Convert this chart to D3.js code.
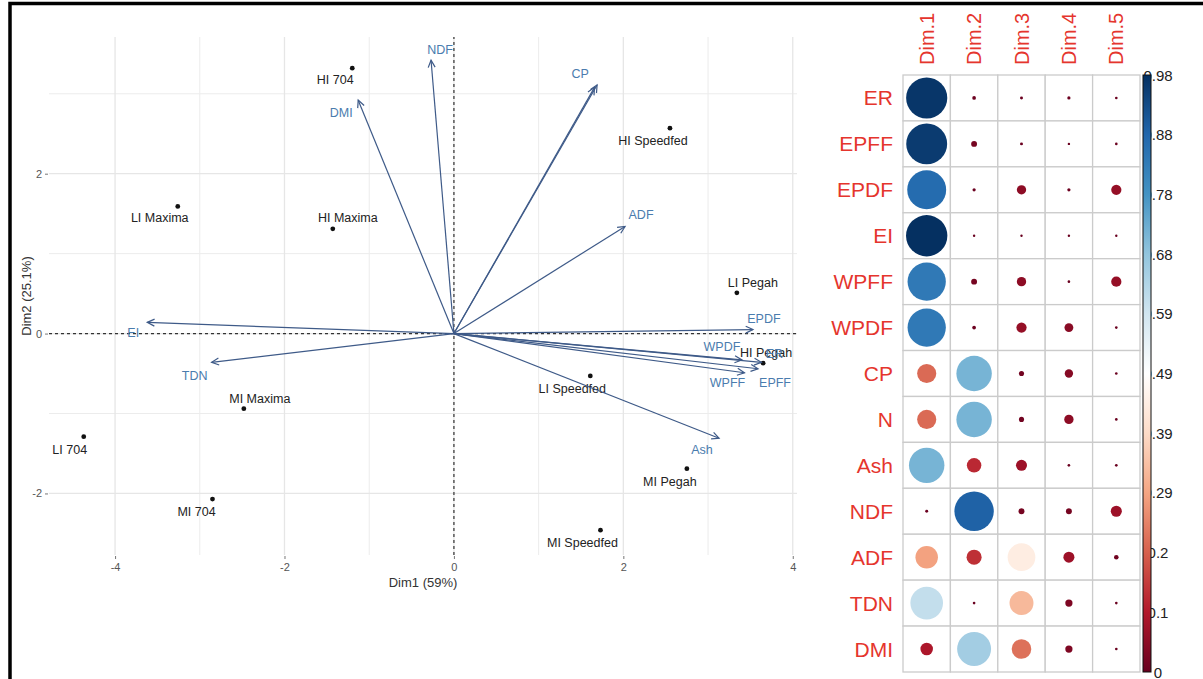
<!DOCTYPE html>
<html>
<head>
<meta charset="utf-8">
<script src="https://cdn.jsdelivr.net/npm/d3@7"></script>
<style>
  html, body { margin: 0; padding: 0; background: #fff; }
  svg { display: block; font-family: Arial, "Liberation Sans", sans-serif; }
</style>
</head>
<body>
<div id="chart"></div>
<script>
// ── Data: PCA biplot ─────────────────────────────────────
const indNames = ['HI 704', 'LI Maxima', 'HI Maxima', 'HI Speedfed', 'LI Pegah', 'HI Pegah',
                  'LI Speedfed', 'MI Maxima', 'LI 704', 'MI 704', 'MI Pegah', 'MI Speedfed'];
const indDim1 = [-1.20, -3.26, -1.43, 2.55, 3.34, 3.65, 1.61, -2.48, -4.37, -2.85, 2.75, 1.73];
const indDim2 = [3.32, 1.59, 1.31, 2.57, 0.51, -0.37, -0.53, -0.94, -1.29, -2.07, -1.69, -2.46];

const varNames = ['NDF', 'DMI', 'CP', 'N', 'ADF', 'EI', 'TDN', 'EPDF', 'Ash', 'WPDF', 'ER', 'EPFF', 'WPFF'];
const varDim1 = [-0.27, -1.13, 1.69, 1.66, 2.02, -3.62, -2.86, 3.53, 3.13, 3.40, 3.63, 3.59, 3.43];
const varDim2 = [3.42, 2.92, 3.11, 3.08, 1.34, 0.14, -0.36, 0.05, -1.31, -0.33, -0.36, -0.44, -0.49];

const xTicks = [-4, -2, 0, 2, 4];
const yTicks = [-2, 0, 2];

// ── Data: cos2 of variables on the dimensions ────────────
const cosRows = ['ER', 'EPFF', 'EPDF', 'EI', 'WPFF', 'WPDF', 'CP', 'N', 'Ash', 'NDF', 'ADF', 'TDN', 'DMI'];
const cosCols = ['Dim.1', 'Dim.2', 'Dim.3', 'Dim.4', 'Dim.5'];
const cosDim1 = [0.97, 0.96, 0.87, 0.98, 0.84, 0.84, 0.21, 0.21, 0.72, 0.005, 0.29, 0.61, 0.09];
const cosDim2 = [0.008, 0.02, 0.006, 0.003, 0.02, 0.008, 0.72, 0.72, 0.12, 0.89, 0.13, 0.004, 0.66];
const cosDim3 = [0.005, 0.005, 0.05, 0.002, 0.05, 0.06, 0.015, 0.015, 0.07, 0.02, 0.44, 0.33, 0.22];
const cosDim4 = [0.006, 0.003, 0.006, 0.002, 0.004, 0.045, 0.04, 0.05, 0.004, 0.02, 0.07, 0.03, 0.03];
const cosDim5 = [0.004, 0.004, 0.06, 0.002, 0.06, 0.004, 0.004, 0.004, 0.004, 0.07, 0.012, 0.004, 0.004];
const cosMax = 0.98;
const barTicks = [0, 0.098, 0.196, 0.294, 0.392, 0.49, 0.588, 0.686, 0.784, 0.882, 0.98];
const barLabels = ['0', '0.1', '0.2', '0.29', '0.39', '0.49', '0.59', '0.68', '0.78', '0.88', '0.98'];
const rdbu = ['#67001F', '#B2182B', '#D6604D', '#F4A582', '#FDDBC7', '#FFFFFF',
              '#D1E5F0', '#92C5DE', '#4393C3', '#2166AC', '#053061'];

const W = 1203, H = 679;
const svg = d3.select('#chart').append('svg').attr('width', W).attr('height', H);

// ── Biplot ───────────────────────────────────────────────
const x = d3.scaleLinear().domain([-4.78, 4.05]).range([49, 797]);
const y = d3.scaleLinear().domain([-2.77, 3.71]).range([555, 37]);
const bp = svg.append('g');

// grid (minor then major)
const xMinor = [-3, -1, 1, 3], yMinor = [-1, 1, 3];
bp.append('g').selectAll('line').data(xMinor).join('line')
    .attr('x1', d => x(d)).attr('x2', d => x(d)).attr('y1', y.range()[0]).attr('y2', y.range()[1])
    .attr('stroke', '#ececec').attr('stroke-width', 1);
bp.append('g').selectAll('line').data(yMinor).join('line')
    .attr('y1', d => y(d)).attr('y2', d => y(d)).attr('x1', x.range()[0]).attr('x2', x.range()[1])
    .attr('stroke', '#ececec').attr('stroke-width', 1);
bp.append('g').selectAll('line').data(xTicks).join('line')
    .attr('x1', d => x(d)).attr('x2', d => x(d)).attr('y1', y.range()[0]).attr('y2', y.range()[1])
    .attr('stroke', '#e6e6e6').attr('stroke-width', 1.3);
bp.append('g').selectAll('line').data(yTicks).join('line')
    .attr('y1', d => y(d)).attr('y2', d => y(d)).attr('x1', x.range()[0]).attr('x2', x.range()[1])
    .attr('stroke', '#e6e6e6').attr('stroke-width', 1.3);

// axes
const xAxis = bp.append('g').attr('transform', `translate(0,${y.range()[0] + 1})`)
    .call(d3.axisBottom(x).tickValues(xTicks).tickSize(3).tickPadding(4).tickFormat(d3.format('d')));
const yAxis = bp.append('g').attr('transform', `translate(${x.range()[0] - 1},0)`)
    .call(d3.axisLeft(y).tickValues(yTicks).tickSize(3).tickPadding(3).tickFormat(d3.format('d')));
[xAxis, yAxis].forEach(a => {
    a.select('.domain').remove();
    a.selectAll('line').attr('stroke', '#777');
    a.selectAll('text').attr('fill', '#555').style('font-size', '11px')
        .text(function () { return this.textContent.replace('−', '-'); });
});

bp.append('text').attr('x', 423).attr('y', 587).attr('text-anchor', 'middle')
    .attr('fill', '#333').style('font-size', '13px').text('Dim1 (59%)');
bp.append('text').attr('transform', 'translate(31,296) rotate(-90)').attr('text-anchor', 'middle')
    .attr('fill', '#333').style('font-size', '13px').text('Dim2 (25.1%)');

// reference lines at 0
bp.append('line').attr('x1', x.range()[0]).attr('x2', x.range()[1]).attr('y1', y(0)).attr('y2', y(0))
    .attr('stroke', '#333').attr('stroke-width', 1.2).attr('stroke-dasharray', '3,3');
bp.append('line').attr('x1', x(0)).attr('x2', x(0)).attr('y1', y.range()[0]).attr('y2', y.range()[1])
    .attr('stroke', '#333').attr('stroke-width', 1.2).attr('stroke-dasharray', '3,3');

// individuals
const inds = indNames.map((n, i) => ({ name: n, d1: indDim1[i], d2: indDim2[i] }));
const indNudge = {
    'HI 704': [-17, 12], 'LI Maxima': [-18, 12], 'HI Maxima': [15, -11], 'HI Speedfed': [-17, 13],
    'LI Pegah': [16, -10], 'HI Pegah': [3, -10], 'LI Speedfed': [-18, 13], 'MI Maxima': [16, -10],
    'LI 704': [-14, 13], 'MI 704': [-16, 13], 'MI Pegah': [-17, 13], 'MI Speedfed': [-18, 13]
};
bp.append('g').selectAll('circle').data(inds).join('circle')
    .attr('cx', d => x(d.d1)).attr('cy', d => y(d.d2)).attr('r', 2.4).attr('fill', '#111');
bp.append('g').selectAll('text').data(inds).join('text')
    .attr('x', d => x(d.d1) + indNudge[d.name][0]).attr('y', d => y(d.d2) + indNudge[d.name][1])
    .attr('text-anchor', 'middle').attr('dominant-baseline', 'central')
    .attr('fill', '#222').style('font-size', '12.5px').text(d => d.name);

// variables (arrows)
const vars = varNames.map((n, i) => ({ name: n, d1: varDim1[i], d2: varDim2[i] }));
const varNudge = {
    'NDF': [9, -10], 'DMI': [-17, 13], 'CP': [-17, -11], 'ADF': [16, -11], 'EI': [-14, 11],
    'TDN': [-17, 14], 'EPDF': [11, -11], 'Ash': [-17, 12], 'WPDF': [-20, -13], 'ER': [13, -8],
    'EPFF': [17, 14], 'WPFF': [-17, 10]
};
const arrowCol = '#3e5a88';
const ag = bp.append('g').attr('stroke', arrowCol).attr('stroke-width', 1.2).attr('fill', 'none');
vars.forEach(v => {
    const x0 = x(0), y0 = y(0), x1 = x(v.d1), y1 = y(v.d2);
    const ang = Math.atan2(y1 - y0, x1 - x0), L = 8, a = Math.PI / 7;
    ag.append('line').attr('x1', x0).attr('y1', y0).attr('x2', x1).attr('y2', y1);
    ag.append('path').attr('d',
        `M${x1 - L * Math.cos(ang - a)},${y1 - L * Math.sin(ang - a)}L${x1},${y1}` +
        `L${x1 - L * Math.cos(ang + a)},${y1 - L * Math.sin(ang + a)}`);
});
bp.append('g').selectAll('text').data(vars.filter(v => varNudge[v.name])).join('text')
    .attr('x', d => x(d.d1) + varNudge[d.name][0]).attr('y', d => y(d.d2) + varNudge[d.name][1])
    .attr('text-anchor', 'middle').attr('dominant-baseline', 'central')
    .attr('fill', '#4a7cae').style('font-size', '12.5px').text(d => d.name);

// ── cos2 corrplot ────────────────────────────────────────
const cosSeries = [cosDim1, cosDim2, cosDim3, cosDim4, cosDim5];
const cells = [];
cosRows.forEach((r, i) => cosCols.forEach((c, j) => cells.push({ row: r, col: c, v: cosSeries[j][i] })));

const cx = d3.scaleBand().domain(cosCols).range([903, 1140]);
const cy = d3.scaleBand().domain(cosRows).range([75, 672]);
const col = d3.scaleLinear().domain(barTicks).range(rdbu).clamp(true);
const rad = d3.scaleSqrt().domain([0, cosMax]).range([0, 0.45 * Math.min(cx.bandwidth(), cy.bandwidth())]);

const cp = svg.append('g');
cp.append('g').selectAll('rect').data(cells).join('rect')
    .attr('x', d => cx(d.col)).attr('y', d => cy(d.row))
    .attr('width', cx.bandwidth()).attr('height', cy.bandwidth())
    .attr('fill', '#fff').attr('stroke', '#cbcbcb').attr('stroke-width', 1.3);
cp.append('g').selectAll('circle').data(cells).join('circle')
    .attr('cx', d => cx(d.col) + cx.bandwidth() / 2).attr('cy', d => cy(d.row) + cy.bandwidth() / 2)
    .attr('r', d => Math.max(1.2, rad(d.v))).attr('fill', d => col(d.v));

const red = '#e5352d';
cp.append('g').selectAll('text').data(cosRows).join('text')
    .attr('x', 893).attr('y', d => cy(d) + cy.bandwidth() / 2)
    .attr('text-anchor', 'end').attr('dominant-baseline', 'central')
    .attr('fill', red).style('font-size', '21px').text(d => d);
cp.append('g').selectAll('text').data(cosCols).join('text')
    .attr('transform', d => `translate(${cx(d) + cx.bandwidth() / 2},65) rotate(-90)`)
    .attr('text-anchor', 'start').attr('dominant-baseline', 'central')
    .attr('fill', red).style('font-size', '20px').text(d => d);

// colour bar
const by = d3.scaleLinear().domain([0, cosMax]).range([672, 75]);
cp.append('g').selectAll('text').data(barTicks).join('text')
    .attr('x', 1158).attr('y', d => by(d)).attr('text-anchor', 'middle').attr('dominant-baseline', 'central')
    .attr('fill', '#222').style('font-size', '15px').text((d, i) => barLabels[i]);
const grad = svg.append('defs').append('linearGradient').attr('id', 'cbar')
    .attr('x1', 0).attr('x2', 0).attr('y1', 1).attr('y2', 0);
barTicks.forEach((t, i) => grad.append('stop').attr('offset', t / cosMax).attr('stop-color', rdbu[i]));
cp.append('rect').attr('x', 1143).attr('y', 75).attr('width', 8).attr('height', 597)
    .attr('fill', 'url(#cbar)').attr('stroke', '#111').attr('stroke-width', 1);

// outer frame
svg.append('path').attr('d', `M10,${H + 5}V3.5H${W + 5}`)
    .attr('fill', 'none').attr('stroke', '#000').attr('stroke-width', 3.5);
</script>
</body>
</html>
